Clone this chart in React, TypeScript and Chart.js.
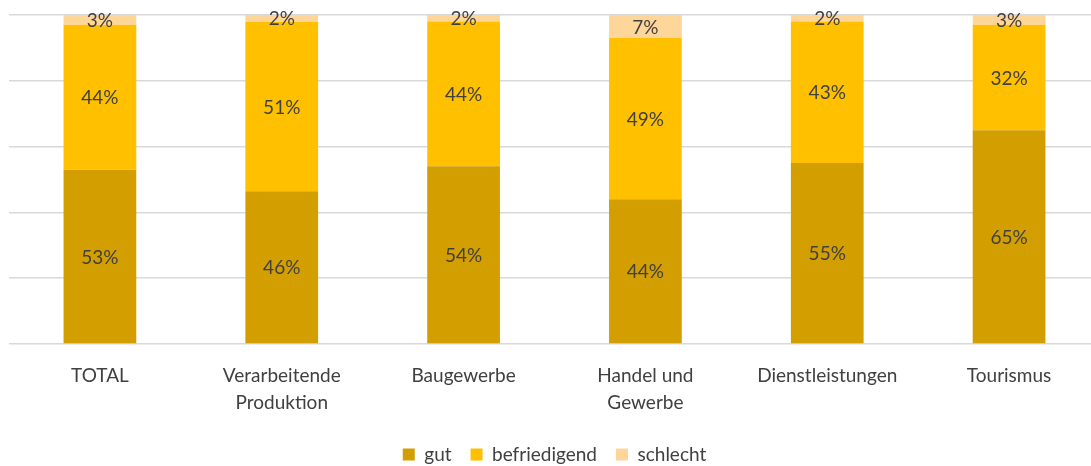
import React, { useEffect, useRef } from "react";
import { Chart, registerables } from "chart.js";

Chart.register(...registerables);

const categories: (string | string[])[] = [
  "TOTAL",
  ["Verarbeitende", "Produktion"],
  "Baugewerbe",
  ["Handel und", "Gewerbe"],
  "Dienstleistungen",
  "Tourismus",
];
const gut = [53, 46, 54, 44, 55, 65];
const befriedigend = [44, 51, 44, 49, 43, 32];
const schlecht = [3, 2, 2, 7, 2, 3];
const yTicks = [0, 20, 40, 60, 80, 100];

const FONT = "Lato, 'Open Sans', sans-serif";
const TEXT = "#404040";

const raw = [gut, befriedigend, schlecht];
const totals = gut.map((_, i) => gut[i] + befriedigend[i] + schlecht[i]);
const norm = (arr: number[]) => arr.map((v, i) => (v / totals[i]) * 100);

const labelPlugin = {
  id: "segLabels",
  afterDatasetsDraw(chart: any) {
    const ctx = chart.ctx;
    ctx.save();
    ctx.font = `19px ${FONT}`;
    ctx.fillStyle = TEXT;
    ctx.textAlign = "center";
    ctx.textBaseline = "middle";
    chart.data.datasets.forEach((ds: any, di: number) => {
      const meta = chart.getDatasetMeta(di);
      meta.data.forEach((bar: any, i: number) => {
        const top = Math.min(bar.y, bar.base);
        const bot = Math.max(bar.y, bar.base);
        ctx.fillText(raw[di][i] + "%", bar.x, (top + bot) / 2 + 1);
      });
    });
    ctx.restore();
  },
};

export default function App() {
  const ref = useRef<HTMLCanvasElement>(null);
  useEffect(() => {
    if (!ref.current) return;
    const chart = new Chart(ref.current, {
      type: "bar",
      data: {
        labels: categories,
        datasets: [
          { label: "gut", data: norm(gut), backgroundColor: "#D39E00" },
          { label: "befriedigend", data: norm(befriedigend), backgroundColor: "#FFC000" },
          { label: "schlecht", data: norm(schlecht), backgroundColor: "#FFD699" },
        ],
      },
      options: {
        responsive: false,
        animation: false,
        devicePixelRatio: 1,
        categoryPercentage: 1,
        barPercentage: 0.4,
        layout: { padding: { top: 15, left: 9, right: 0, bottom: 2 } },
        scales: {
          x: {
            stacked: true,
            grid: { display: false },
            border: { display: false },
            ticks: {
              color: TEXT,
              font: { family: FONT, size: 19, lineHeight: 1.42 },
              padding: 10,
              maxRotation: 0,
              autoSkip: false,
            },
          },
          y: {
            stacked: true,
            min: 0,
            max: 100,
            afterBuildTicks: (axis: any) => {
              axis.ticks = yTicks.map((v) => ({ value: v }));
            },
            ticks: { display: false },
            border: { display: false },
            grid: { color: "#d9d9d9", lineWidth: 1.5, drawTicks: false },
          },
        },
        plugins: {
          tooltip: { enabled: false },
          legend: {
            position: "bottom",
            labels: {
              color: TEXT,
              font: { family: FONT, size: 19 },
              boxWidth: 12,
              boxHeight: 12,
              padding: 19,
            },
          },
        },
      },
      plugins: [labelPlugin],
    });
    return () => chart.destroy();
  }, []);
  return (
    <div style={{ position: "fixed", left: 0, top: 0, width: 1091, height: 466, overflow: "hidden", background: "#fff" }}>
      <canvas ref={ref} width={1100} height={476} />
    </div>
  );
}
